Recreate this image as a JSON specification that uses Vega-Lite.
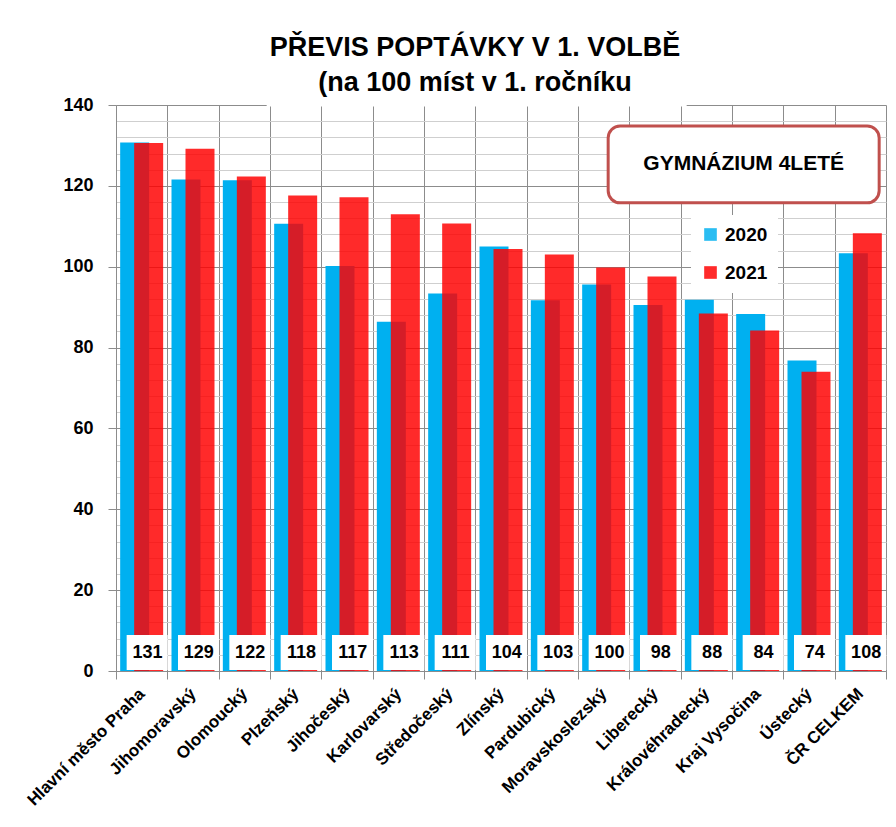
{
  "$schema": "https://vega.github.io/schema/vega-lite/v6.json",
  "width": 770,
  "height": 566,
  "autosize": {"type": "none"},
  "padding": {"left": 116, "top": 105, "right": 10, "bottom": 156},
  "background": "white",
  "config": {"view": {"stroke": null}, "font": "Liberation Sans"},
  "title": {
    "text": ["PŘEVIS POPTÁVKY V 1. VOLBĚ", "(na 100 míst v 1. ročníku"],
    "fontSize": 27,
    "fontWeight": "bold",
    "color": "black",
    "lineHeight": 35,
    "anchor": "middle",
    "dx": -26,
    "offset": -1,
    "font": "Liberation Sans"
  },
  "data": {
    "values": [
      {"region": "Hlavní město Praha", "year": "2020", "value": 130.7},
      {"region": "Hlavní město Praha", "year": "2021", "value": 130.6},
      {"region": "Jihomoravský", "year": "2020", "value": 121.6},
      {"region": "Jihomoravský", "year": "2021", "value": 129.2},
      {"region": "Olomoucký", "year": "2020", "value": 121.4},
      {"region": "Olomoucký", "year": "2021", "value": 122.3},
      {"region": "Plzeňský", "year": "2020", "value": 110.6},
      {"region": "Plzeňský", "year": "2021", "value": 117.6},
      {"region": "Jihočeský", "year": "2020", "value": 100.2},
      {"region": "Jihočeský", "year": "2021", "value": 117.2},
      {"region": "Karlovarský", "year": "2020", "value": 86.4},
      {"region": "Karlovarský", "year": "2021", "value": 113.0},
      {"region": "Středočeský", "year": "2020", "value": 93.4},
      {"region": "Středočeský", "year": "2021", "value": 110.7},
      {"region": "Zlínský", "year": "2020", "value": 105.0},
      {"region": "Zlínský", "year": "2021", "value": 104.4},
      {"region": "Pardubický", "year": "2020", "value": 91.7},
      {"region": "Pardubický", "year": "2021", "value": 103.0},
      {"region": "Moravskoslezský", "year": "2020", "value": 95.6},
      {"region": "Moravskoslezský", "year": "2021", "value": 99.8},
      {"region": "Liberecký", "year": "2020", "value": 90.5},
      {"region": "Liberecký", "year": "2021", "value": 97.6},
      {"region": "Královéhradecký", "year": "2020", "value": 91.8},
      {"region": "Královéhradecký", "year": "2021", "value": 88.4},
      {"region": "Kraj Vysočina", "year": "2020", "value": 88.3},
      {"region": "Kraj Vysočina", "year": "2021", "value": 84.2},
      {"region": "Ústecký", "year": "2020", "value": 76.8},
      {"region": "Ústecký", "year": "2021", "value": 74.0},
      {"region": "ČR CELKEM", "year": "2020", "value": 103.3},
      {"region": "ČR CELKEM", "year": "2021", "value": 108.3}
    ]
  },
  "resolve": {"axis": {"x": "independent", "y": "independent"}},
  "layer": [
    {
      "transform": [{"filter": "datum.year === '2020'"}],
      "mark": {"type": "bar", "width": 29, "xOffset": -7},
      "encoding": {
        "x": {
          "field": "region",
          "type": "nominal",
          "scale": {
            "domain": ["Hlavní město Praha", "Jihomoravský", "Olomoucký", "Plzeňský", "Jihočeský", "Karlovarský", "Středočeský", "Zlínský", "Pardubický", "Moravskoslezský", "Liberecký", "Královéhradecký", "Kraj Vysočina", "Ústecký", "ČR CELKEM"],
            "paddingInner": 0,
            "paddingOuter": 0
          },
          "axis": {
            "title": null,
            "tickBand": "extent",
            "grid": true,
            "gridColor": "#8c8c8c",
            "tickColor": "#8c8c8c",
            "tickSize": 8,
            "domainColor": "#8c8c8c",
            "labelAngle": -45,
            "labelAlign": "right",
            "labelBaseline": "middle",
            "labelFontSize": 17,
            "labelFontWeight": "bold",
            "labelColor": "black",
            "labelPadding": 12,
            "labelOverlap": false
          }
        },
        "y": {
          "field": "value",
          "type": "quantitative",
          "scale": {"domain": [0, 140], "nice": false},
          "axis": {
            "title": null,
            "values": [0, 4, 8, 12, 16, 20, 24, 28, 32, 36, 40, 44, 48, 52, 56, 60, 64, 68, 72, 76, 80, 84, 88, 92, 96, 100, 104, 108, 112, 116, 120, 124, 128, 132, 136, 140],
            "grid": true,
            "gridColor": {"condition": {"test": "datum.value % 20 === 0", "value": "#8c8c8c"}, "value": "#cfcfcf"},
            "tickOpacity": {"condition": {"test": "datum.value % 20 === 0", "value": 1}, "value": 0},
            "labelExpr": "datum.value % 20 === 0 ? datum.label : ''",
            "tickSize": 8,
            "tickColor": "#8c8c8c",
            "domainColor": "#8c8c8c",
            "labelFontSize": 18,
            "labelFontWeight": "bold",
            "labelColor": "black",
            "labelPadding": 15,
            "labelOverlap": false
          }
        },
        "color": {
          "field": "year",
          "type": "nominal",
          "scale": {"domain": ["2020", "2021"], "range": ["#00B0F0", "#FF0000"]},
          "legend": {
            "orient": "none",
            "legendX": 575,
            "legendY": 110,
            "title": null,
            "fillColor": "white",
            "padding": 10,
            "symbolType": "square",
            "symbolSize": 160,
            "symbolStrokeWidth": 0,
            "labelFontSize": 19,
            "labelFontWeight": "bold",
            "labelColor": "black",
            "rowPadding": 18,
            "labelOffset": 5
          }
        }
      }
    },
    {
      "transform": [{"filter": "datum.year === '2021'"}],
      "mark": {"type": "bar", "width": 29, "xOffset": 7, "opacity": 0.835},
      "encoding": {
        "x": {"field": "region", "type": "nominal", "axis": null},
        "y": {"field": "value", "type": "quantitative", "axis": null},
        "color": {"field": "year", "type": "nominal"}
      }
    },
    {
      "transform": [{"filter": "datum.year === '2021'"}],
      "mark": {"type": "bar", "width": 41, "xOffset": 5.5, "color": "white"},
      "encoding": {
        "x": {"field": "region", "type": "nominal", "axis": null},
        "y": {"datum": 8.9, "type": "quantitative", "axis": null},
        "y2": {"datum": 0.25}
      }
    },
    {
      "transform": [{"filter": "datum.year === '2021'"}],
      "mark": {"type": "text", "xOffset": 5.8, "fontSize": 18, "fontWeight": "bold", "color": "black", "baseline": "middle", "align": "center"},
      "encoding": {
        "x": {"field": "region", "type": "nominal", "axis": null},
        "y": {"datum": 4.45, "type": "quantitative", "axis": null},
        "text": {"field": "value", "type": "quantitative", "format": ".0f"}
      }
    },
    {
      "data": {"values": [{"label": "GYMNÁZIUM 4LETÉ"}]},
      "mark": {"type": "bar", "width": 420, "xOffset": 27, "color": "white"},
      "encoding": {
        "x": {"datum": "Středočeský", "type": "nominal", "axis": null},
        "y": {"datum": 140.5, "type": "quantitative", "axis": null},
        "y2": {"datum": 139.6}
      }
    },
    {
      "data": {"values": [{"label": "GYMNÁZIUM 4LETÉ"}]},
      "mark": {"type": "bar", "width": 271, "xOffset": -14, "fill": "white", "stroke": "#C0504D", "strokeWidth": 3, "cornerRadius": 12},
      "encoding": {
        "x": {"datum": "Kraj Vysočina", "type": "nominal", "axis": null},
        "y": {"datum": 134.8, "type": "quantitative", "axis": null},
        "y2": {"datum": 115.8}
      }
    },
    {
      "data": {"values": [{"label": "GYMNÁZIUM 4LETÉ"}]},
      "mark": {"type": "text", "xOffset": -14, "fontSize": 21, "fontWeight": "bold", "color": "black", "baseline": "middle", "align": "center"},
      "encoding": {
        "x": {"datum": "Kraj Vysočina", "type": "nominal", "axis": null},
        "y": {"datum": 125.3, "type": "quantitative", "axis": null},
        "text": {"field": "label"}
      }
    }
  ]
}
